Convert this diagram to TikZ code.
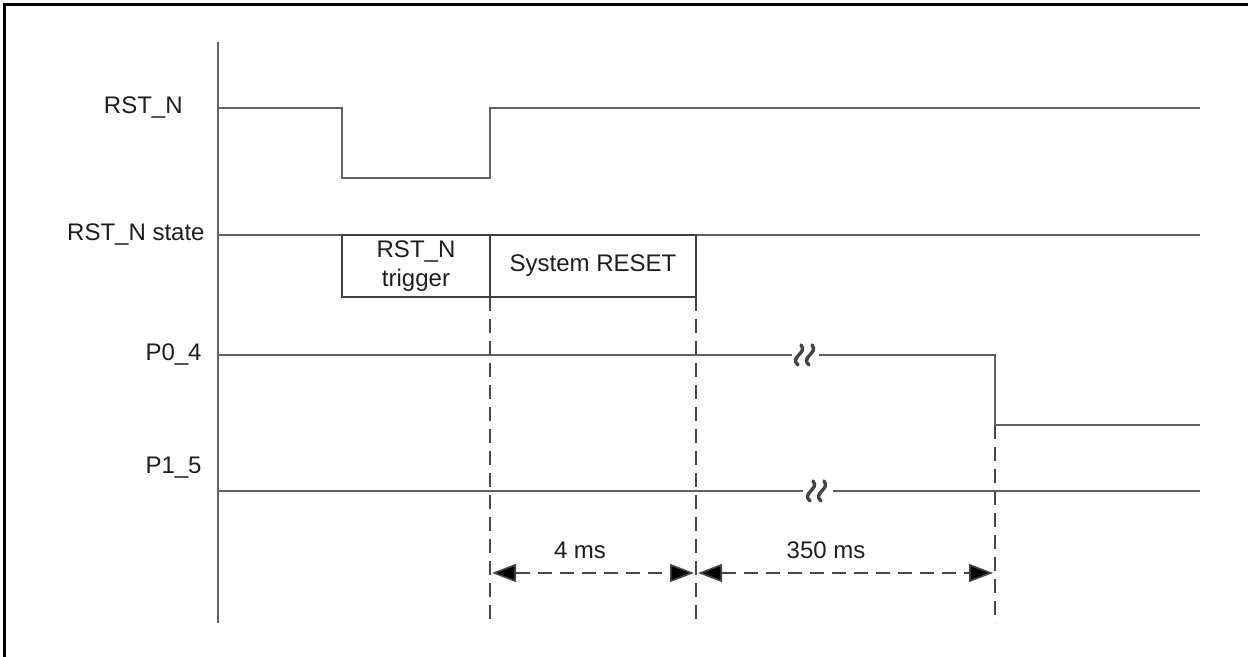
\documentclass[tikz,border=0pt]{standalone}
\usepackage{fontspec}
\setmainfont{Liberation Sans}
\usetikzlibrary{positioning,arrows.meta}
\definecolor{ink}{HTML}{1E1E1E}
\definecolor{wave}{HTML}{616161}
\definecolor{guide}{HTML}{474747}
\tikzset{
  sig/.style={wave, line width=1pt},
  lbl/.style={font=\fontsize{12}{14.5}\selectfont, text=ink, inner sep=0pt},
  phase/.style={lbl, draw=ink!85, line width=0.9pt, outer sep=0pt, minimum height=31pt, align=center, anchor=north west},
  guideline/.style={guide, line width=0.8pt, dash pattern=on 7pt off 4pt},
  span/.style={guideline, {Triangle[length=12pt,width=9pt,fill=black]}-{Triangle[length=12pt,width=9pt,fill=black]}, shorten <=1pt, shorten >=1pt},
  brk/.pic={
    \draw[wave!70!black, line width=1.7pt, line cap=round] (-8,10) .. controls (-17,2) and (2,-2) .. (-5,-10);
    \draw[wave!70!black, line width=1.7pt, line cap=round] (3,10) .. controls (-6,2) and (13,-2) .. (6,-10);
  },
}

\begin{document}
\begin{tikzpicture}[x=0.5pt, y=-0.5pt]
\useasboundingbox (0,0) rectangle (1248,657);
\draw[black, line width=1.5pt] (4.5,657) -- (4.5,4.5) -- (1248,4.5);
% time axis
\draw[sig] (218,42) -- (218,623);
% signal names
\node[lbl, anchor=east] (nRst) at (183,108) {RST\_N};
\node[lbl, anchor=east] (nState) at (205,235) {RST\_N state};
\node[lbl, anchor=east] (nP04) at (202,355) {P0\_4};
\node[lbl, anchor=east] (nP15) at (202,468) {P1\_5};
% RST_N pulse
\draw[sig] (218,108) -- (342,108) -- (342,178) -- (490,178) -- (490,108) -- (1200,108);
% state line and phases
\draw[sig] (218,235) -- (1200,235);
\node[phase, minimum width=74pt] (trig) at (342,235) {RST\_N\\trigger};
\node[phase, minimum width=103pt] (sysrst) at (trig.north east) {System RESET};
% P0_4
\draw[sig] (218,355) -- (792,355);
\draw[sig] (819,355) -- (995,355) -- (995,425) -- (1200,425);
\pic at (806,355) {brk};
% P1_5
\draw[sig] (218,491) -- (803,491);
\draw[sig] (833,491) -- (1200,491);
\pic at (818,491) {brk};
% timing guides
\coordinate (g1) at (490,623);
\coordinate (g2) at (696,623);
\coordinate (g3) at (995,623);
\draw[guideline] (trig.south east) -- (g1);
\draw[guideline] (sysrst.south east) -- (g2);
\draw[guideline] (995,425) -- (g3);
\coordinate (a1) at (490,573);
\coordinate (a2) at (696,573);
\coordinate (a3) at (995,573);
\draw[span] (a1) -- (a2);
\draw[span] (a2) -- (a3);
\node[lbl] (tReset) at (580,550) {4 ms};
\node[lbl] (tBoot) at (826,550) {350 ms};
\end{tikzpicture}
\end{document}
